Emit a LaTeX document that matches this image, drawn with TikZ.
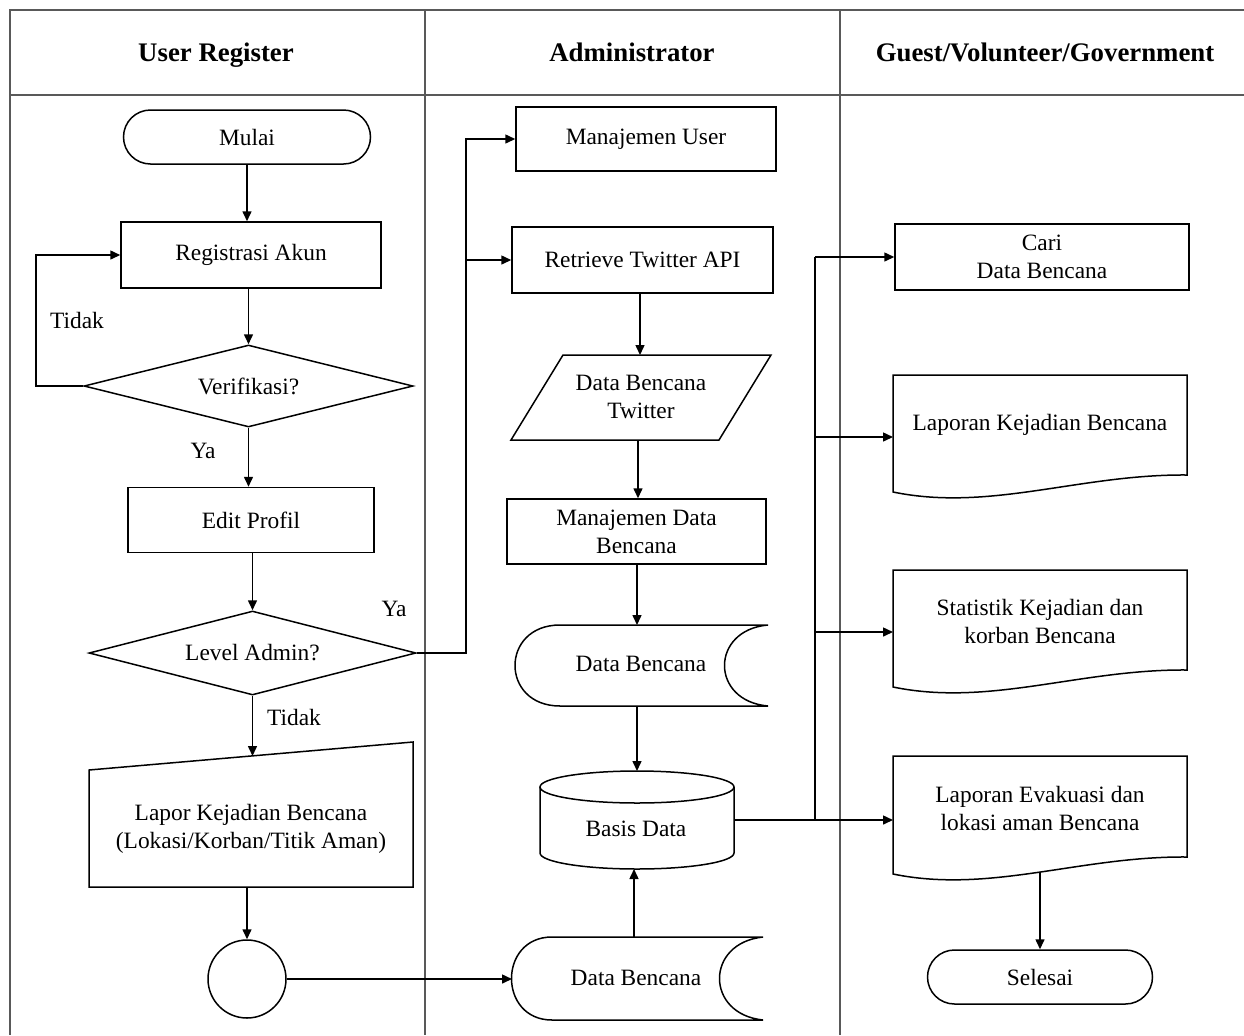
\documentclass[tikz,border=0pt]{standalone}
\usepackage{fontspec}
\setmainfont{Liberation Serif}
\usetikzlibrary{shapes.geometric,shapes.misc,arrows.meta}
\begin{document}
\begin{tikzpicture}[x=0.5pt,y=-0.5pt,line width=0.75pt,
  txt/.style={font=\fontsize{11.7}{14}\selectfont,align=center,inner sep=0pt},
  hdr/.style={font=\fontsize{13.4}{16}\selectfont\bfseries,inner sep=0pt,anchor=base},
  box/.style={txt,draw,rectangle},
  term/.style={txt,draw,rounded rectangle},
  dec/.style={txt,draw,diamond,aspect=4},
  arr/.style={-{Triangle[length=5pt,width=4.5pt]}},
  lane/.style={draw=black!65,line width=1.3pt}]
\useasboundingbox (0,0) rectangle (1244,1035);
% swimlanes
\draw[lane] (1244,10) -- (10,10) -- (10,1035);
\draw[lane] (10,95) -- (1244,95);
\draw[lane] (425,10) -- (425,1035);
\draw[lane] (840,10) -- (840,1035);
\node[hdr] (h1) at (216,61) {User Register};
\node[hdr] (h2) at (632,61) {Administrator};
\node[hdr] (h3) at (1045,61) {Guest/Volunteer/Government};
% lane 1
\node[term,minimum width=123.5pt,minimum height=27pt] (mulai) at (247,137) {Mulai};
\node[box,minimum width=130pt,minimum height=33pt] (reg) at (251,255) {Registrasi Akun};
\node[dec,minimum width=164.5pt,minimum height=41pt] (verif) at (248.5,386) {Verifikasi?};
\node[box,minimum width=123pt,minimum height=32.5pt] (edit) at (251,520) {Edit Profil};
\node[dec,minimum width=163.5pt,minimum height=42pt] (level) at (252.5,653) {Level Admin?};
\draw (89,770) -- (413,742) -- (413,887) -- (89,887) -- cycle;
\node[txt] (lapor) at (251,829) {Lapor Kejadian Bencana\\(Lokasi/Korban/Titik Aman)};
\coordinate (laportop) at (252.5,756);
\coordinate (laporbot) at (247,887);
\node[draw,circle,minimum size=39pt,inner sep=0pt] (circ) at (247,979) {};
\node[txt] (tidak1) at (77,320) {Tidak};
\node[txt] (ya1) at (203,451) {Ya};
\node[txt] (ya2) at (394,609) {Ya};
\node[txt] (tidak2) at (294,717) {Tidak};
% lane 2
\node[box,minimum width=130pt,minimum height=32pt] (mu) at (646,139) {Manajemen User};
\node[box,minimum width=130.5pt,minimum height=33pt] (rt) at (642.5,260) {Retrieve Twitter API};
\draw (563,355) -- (771,355) -- (719,440) -- (511,440) -- cycle;
\node[txt] (dbt) at (641,397) {Data Bencana\\Twitter};
\coordinate (dbttop) at (640,355);
\coordinate (dbtbot) at (638,440);
\node[box,minimum width=129.5pt,minimum height=32.5pt] (mdb) at (636.5,531.5) {Manajemen Data\\Bencana};
\draw (768,625) -- (560,625) .. controls (500,625) and (500,706) .. (560,706) -- (768,706)
      .. controls (710,701) and (710,630) .. (768,625);
\node[txt] (db1) at (641,664) {Data Bencana};
\coordinate (db1top) at (637,625);
\coordinate (db1bot) at (637,706);
\draw (637,787) ellipse [x radius=48.5pt,y radius=8pt];
\draw (540,787) -- (540,853) arc[start angle=180,end angle=360,x radius=48.5pt,y radius=8pt] -- (734,787);
\node[txt] (bd) at (636,829) {Basis Data};
\coordinate (bdtop) at (637,771);
\coordinate (bdbot) at (634,869);
\coordinate (bdright) at (734,820);
\draw (763,937) -- (552,937) .. controls (498,937) and (498,1020) .. (552,1020) -- (763,1020)
      .. controls (705,1014) and (705,943) .. (763,937);
\node[txt] (db2) at (636,978) {Data Bencana};
\coordinate (db2top) at (634,937);
\coordinate (db2left) at (512,979);
% lane 3
\node[box,minimum width=147pt,minimum height=33pt] (cari) at (1042,257) {Cari\\Data Bencana};
\draw (893,375) -- (1187,375) -- (1187,475) .. controls (1080,474) and (990,512) .. (893,492) -- cycle;
\node[txt] (lk) at (1040,425) {Laporan Kejadian Bencana};
\coordinate (lkin) at (893,437);
\draw (893,570) -- (1187,570) -- (1187,670) .. controls (1080,669) and (990,707) .. (893,687) -- cycle;
\node[txt] (st) at (1040,621) {Statistik Kejadian dan\\korban Bencana};
\coordinate (stin) at (893,632);
\draw (893,756) -- (1187,756) -- (1187,857) .. controls (1080,856) and (990,894) .. (893,874) -- cycle;
\node[txt] (le) at (1040,808) {Laporan Evakuasi dan\\lokasi aman Bencana};
\coordinate (lein) at (893,820);
\coordinate (lebot) at (1040,872);
\node[term,minimum width=112.5pt,minimum height=27pt] (sel) at (1040,977) {Selesai};
% connectors
\draw[arr] (mulai.south) -- (mulai.south |- reg.north);
\draw[arr] (verif.north |- reg.south) -- (verif.north);
\draw[arr] (verif.west) -- (36,386) |- (reg.west);
\draw[arr] (verif.south) -- (verif.south |- edit.north);
\draw[arr] (level.north |- edit.south) -- (level.north);
\coordinate (j1) at (466,653);
\draw[arr] (level.east) -- (j1) |- (mu.west);
\draw[arr] (j1 |- rt.west) -- (rt.west);
\draw[arr] (level.south) -- (laportop);
\draw[arr] (laporbot) -- (circ.north);
\draw[arr] (circ.east) -- (db2left);
\draw[arr] (rt.south -| dbttop) -- (dbttop);
\draw[arr] (dbtbot) -- (dbtbot |- mdb.north);
\draw[arr] (mdb.south -| db1top) -- (db1top);
\draw[arr] (db1bot) -- (bdtop);
\draw[arr] (db2top) -- (bdbot);
\coordinate (j2) at (815,820);
\draw[arr] (bdright) -- (lein);
\draw (j2) -- (j2 |- cari.west);
\draw[arr] (j2 |- cari.west) -- (cari.west);
\draw[arr] (j2 |- lkin) -- (lkin);
\draw[arr] (j2 |- stin) -- (stin);
\draw[arr] (lebot) -- (sel.north);
\end{tikzpicture}
\end{document}
